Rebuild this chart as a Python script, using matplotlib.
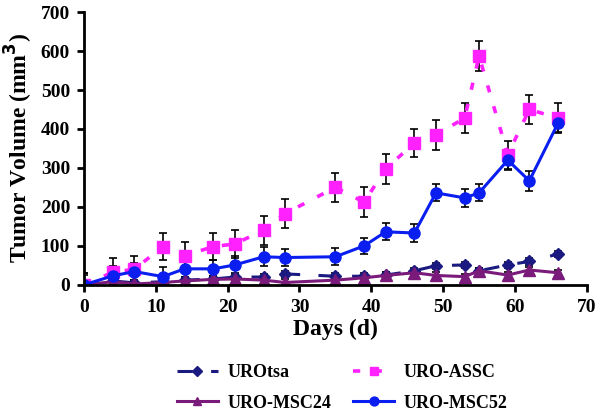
import matplotlib.pyplot as plt
import numpy as np

plt.rcParams['font.family'] = ['Liberation Serif', 'DejaVu Serif']
plt.rcParams['font.weight'] = 'bold'

days = [0, 4, 7, 11, 14, 18, 21, 25, 28, 35, 39, 42, 46, 49, 53, 55, 59, 62, 66]

urotsa = [0, 10, 5, 8, 12, 15, 20, 20, 28, 22, 22, 25, 36, 49, 51, 36, 51, 60, 79]
urotsa_err = [30, 10, 8, 10, 8, 8, 10, 8, 8, 8, 8, 8, 8, 8, 8, 8, 8, 8, 8]

assc = [0, 32, 40, 98, 75, 98, 105, 140, 183, 250, 212, 298, 364, 385, 428, 587, 334, 450, 428]
assc_err = [30, 38, 35, 35, 35, 35, 35, 37, 38, 38, 38, 38, 37, 38, 38, 38, 36, 38, 38]

msc24 = [0, 8, 2, 6, 10, 14, 15, 12, 6, 12, 18, 24, 31, 24, 21, 36, 25, 38, 31]
msc24_err = [10, 8, 8, 8, 8, 8, 8, 8, 8, 8, 8, 8, 8, 8, 8, 8, 8, 8, 8]

msc52 = [0, 23, 34, 21, 41, 41, 51, 72, 70, 72, 100, 136, 133, 236, 223, 236, 320, 267, 415]
msc52_err = [25, 25, 22, 25, 22, 22, 22, 25, 22, 22, 20, 22, 22, 22, 22, 22, 25, 25, 22]

fig = plt.figure(figsize=(6, 4.17), dpi=100)
ax = fig.add_axes([0.14, 0.317, 0.838, 0.654])

ebkw = dict(ecolor='black', elinewidth=1.2, capsize=3, capthick=1.2)
h1 = ax.errorbar(days, urotsa, yerr=urotsa_err, color='#1a1a80', marker='D', markersize=6,
                 linestyle=(0, (5, 6)), linewidth=2.2, label='UROtsa', **ebkw)
h2 = ax.errorbar(days, assc, yerr=assc_err, color='#ff22ff', marker='s', markersize=8,
                 linestyle=(0, (2, 4)), linewidth=2.6, label='URO-ASSC', **ebkw)
h3 = ax.errorbar(days, msc24, yerr=msc24_err, color='#7a1a7a', marker='^', markersize=8,
                 linestyle='-', linewidth=2.2, label='URO-MSC24', **ebkw)
h4 = ax.errorbar(days, msc52, yerr=msc52_err, color='#0a1ef0', marker='o', markersize=8,
                 linestyle='-', linewidth=2.2, label='URO-MSC52', **ebkw)

ax.set_xlim(0, 70)
ax.set_ylim(0, 700)
ax.set_xticks(np.arange(0, 71, 10))
ax.set_yticks(np.arange(0, 701, 100))
ax.spines['top'].set_visible(False)
ax.spines['right'].set_visible(False)
ax.spines['left'].set_linewidth(2)
ax.spines['bottom'].set_linewidth(2)
ax.tick_params(direction='out', width=2, length=5, labelsize=14, pad=5)
ax.set_xlabel('Days (d)', fontsize=17, fontweight='bold', labelpad=2)
ax.set_ylabel('Tumor Volume (mm$^\\mathbf{3}$)', fontsize=17, fontweight='bold', labelpad=4)

# legend filled column-wise, so order gives rows: UROtsa/URO-ASSC, URO-MSC24/URO-MSC52
fig.legend(handles=[h1[0], h3[0], h2[0], h4[0]],
           labels=['UROtsa', 'URO-MSC24', 'URO-ASSC', 'URO-MSC52'],
           ncol=2, frameon=False, fontsize=13, markerscale=0.8,
           loc='center', bbox_to_anchor=(0.57, 0.07), columnspacing=1.2,
           handlelength=2.3, handletextpad=0.5, labelspacing=0.75)

fig.savefig('out.png', dpi=100)
